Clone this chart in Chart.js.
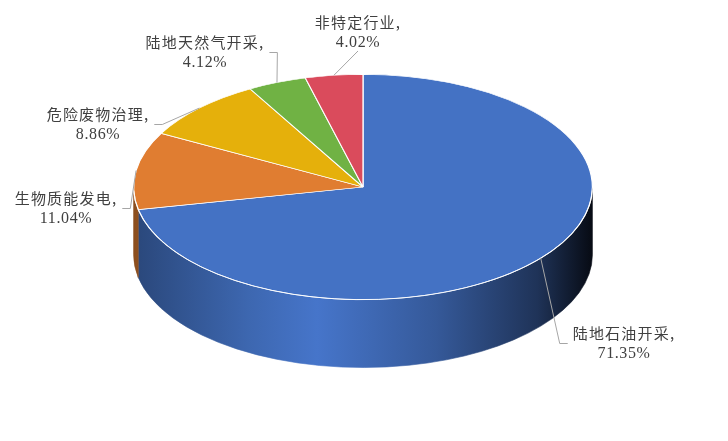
<!DOCTYPE html>
<html>
<head>
<meta charset="utf-8">
<script src="https://cdn.jsdelivr.net/npm/chart.js@4.4.1/dist/chart.umd.min.js"></script>
<style>
  html, body { margin: 0; background: #fff; }
  #wrap { width: 728px; height: 441px; position: relative; }
</style>
</head>
<body>
<div id="wrap"><canvas id="pieChart"></canvas></div>
<script>
const categories = ["陆地石油开采", "生物质能发电", "危险废物治理", "陆地天然气开采", "非特定行业"];
const shares = [71.35, 11.04, 8.86, 4.12, 4.02];
const sliceColors = ["#4472C4", "#E07D31", "#E5B00B", "#70B244", "#DA4B5C"];

// where each data label block sits (centre of the two lines)
const labelCenters = [[624, 343], [66, 208], [98, 124], [205, 52], [358, 32]];

// 3d look: horizontal stretch, vertical squash and wall depth, relative to pie radius
const tilt = { stretch: 1.23, squash: 0.604, depth: 0.364 };
// brightness of the side wall from left to right
const sideStops = [[0, 0.62], [0.25, 0.9], [0.4, 1.03], [0.66, 0.78], [0.88, 0.45], [1, 0.1]];

const cjkFont = '15px "Noto Sans CJK SC"';
const numFont = '16px "Liberation Serif"';

function shade(hex, f) {
    const n = parseInt(hex.slice(1), 16);
    const r = Math.min(255, Math.round(((n >> 16) & 255) * f));
    const g = Math.min(255, Math.round(((n >> 8) & 255) * f));
    const b = Math.min(255, Math.round((n & 255) * f));
    return "rgb(" + r + "," + g + "," + b + ")";
}

function geom(chart) {
    const arcs = chart.getDatasetMeta(0).data;
    const p = arcs[0].getProps(["x", "y", "outerRadius"]);
    return {
        x: p.x, y: p.y, arcs: arcs,
        rx: p.outerRadius * tilt.stretch,
        ry: p.outerRadius * tilt.squash,
        d: p.outerRadius * tilt.depth
    };
}

const pie3d = {
    id: "pie3d",
    beforeDatasetsDraw(chart) {
        const ctx = chart.ctx;
        const g = geom(chart);
        // front wall, only the half facing us
        g.arcs.forEach(function (arc, i) {
            const a = arc.getProps(["startAngle", "endAngle"]);
            const grad = ctx.createLinearGradient(g.x - g.rx, 0, g.x + g.rx, 0);
            sideStops.forEach(function (s) { grad.addColorStop(s[0], shade(sliceColors[i], s[1])); });
            [0, 2 * Math.PI].forEach(function (off) {
                const a1 = Math.max(a.startAngle, off);
                const a2 = Math.min(a.endAngle, off + Math.PI);
                if (a2 <= a1) return;
                ctx.beginPath();
                ctx.ellipse(g.x, g.y, g.rx, g.ry, 0, a1, a2);
                ctx.ellipse(g.x, g.y + g.d, g.rx, g.ry, 0, a2, a1, true);
                ctx.closePath();
                ctx.fillStyle = grad;
                ctx.fill();
                ctx.strokeStyle = grad;
                ctx.lineWidth = 0.6;
                ctx.stroke();
            });
        });
        // squash the top face the library draws
        ctx.save();
        ctx.translate(g.x, g.y);
        ctx.scale(tilt.stretch, tilt.squash);
        ctx.translate(-g.x, -g.y);
    },
    afterDatasetsDraw(chart) {
        const ctx = chart.ctx;
        ctx.restore();
        const g = geom(chart);
        ctx.beginPath();
        ctx.ellipse(g.x, g.y, g.rx, g.ry, 0, 0.03, Math.PI - 0.03);
        ctx.strokeStyle = "rgba(255,255,255,0.85)";
        ctx.lineWidth = 1;
        ctx.stroke();
    },
    afterDraw(chart) {
        const ctx = chart.ctx;
        const g = geom(chart);
        g.arcs.forEach(function (arc, i) {
            const a = arc.getProps(["startAngle", "endAngle"]);
            const mid = (a.startAngle + a.endAngle) / 2;
            const ax = g.x + g.rx * Math.cos(mid);
            const ay = g.y + g.ry * Math.sin(mid);
            const lx = labelCenters[i][0], ly = labelCenters[i][1];
            const line1 = categories[i] + ",";
            const line2 = shares[i].toFixed(2) + "%";
            ctx.font = cjkFont;
            ctx.letterSpacing = "1.2px";
            const w1 = ctx.measureText(line1).width;
            ctx.font = numFont;
            ctx.letterSpacing = "0.6px";
            const w2 = ctx.measureText(line2).width;
            const hw = Math.max(w1, w2) / 2;

            ctx.strokeStyle = "#A6A6A6";
            ctx.lineWidth = 1;
            ctx.beginPath();
            if (Math.abs(ax - lx) < hw && ay > ly) {
                ctx.moveTo(lx, ly + 19);
                ctx.lineTo(ax, ay);
            } else {
                const side = ax > lx ? 1 : -1;
                const sx = lx + side * (hw + 5);
                ctx.moveTo(sx, ly + 0.5);
                ctx.lineTo(sx + side * 8, ly + 0.5);
                ctx.lineTo(ax, ay);
            }
            ctx.stroke();

            ctx.fillStyle = "#404040";
            ctx.textAlign = "center";
            ctx.textBaseline = "middle";
            ctx.font = cjkFont;
            ctx.letterSpacing = "1.2px";
            ctx.fillText(line1, lx, ly - 10);
            ctx.font = numFont;
            ctx.letterSpacing = "0.6px";
            ctx.fillText(line2, lx, ly + 11);
            ctx.letterSpacing = "0px";
        });
    }
};

const chart = new Chart(document.getElementById("pieChart").getContext("2d"), {
    type: "pie",
    data: {
        labels: categories,
        datasets: [{
            data: shares,
            backgroundColor: sliceColors,
            borderColor: "#ffffff",
            borderWidth: 1
        }]
    },
    options: {
        responsive: true,
        maintainAspectRatio: false,
        animation: false,
        events: [],
        layout: { padding: { left: 0, right: 2, top: 0, bottom: 67 } },
        plugins: {
            legend: { display: false },
            tooltip: { enabled: false }
        }
    },
    plugins: [pie3d]
});
</script>
</body>
</html>
